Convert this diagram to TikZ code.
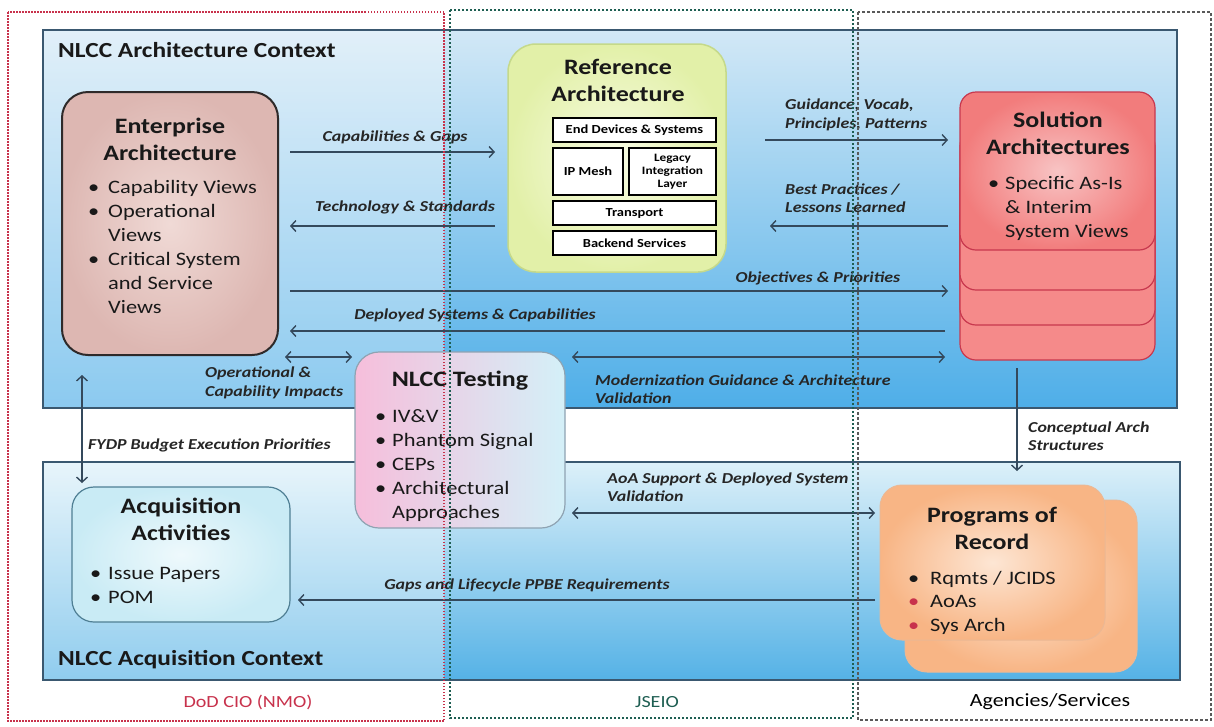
\documentclass[tikz,border=0pt]{standalone}
\usepackage{fontspec}
\setmainfont{Carlito}[FakeStretch=1.18]
\usetikzlibrary{arrows.meta}
\definecolor{arr}{HTML}{34495C}
\definecolor{ctxline}{HTML}{3A5870}
\definecolor{ctxtop}{HTML}{D2E8F6}
\definecolor{ctxbot}{HTML}{4EAEE8}
\definecolor{acqtop}{HTML}{DCF0F9}
\definecolor{acqbot}{HTML}{55B2E6}
\definecolor{eain}{HTML}{F0DAD6}
\definecolor{eaout}{HTML}{DDB7B2}
\definecolor{ealine}{HTML}{2E2A2A}
\definecolor{rain}{HTML}{F8FCE4}
\definecolor{raout}{HTML}{E2F0A8}
\definecolor{raline}{HTML}{C5D98A}
\definecolor{sain}{HTML}{F8C4C4}
\definecolor{saout}{HTML}{F27C7C}
\definecolor{salay}{HTML}{F58A8A}
\definecolor{saline}{HTML}{C8384E}
\definecolor{ntl}{HTML}{F6BEDB}
\definecolor{ntr}{HTML}{D4F0F8}
\definecolor{ntline}{HTML}{8FA3B2}
\definecolor{aain}{HTML}{EEF9FC}
\definecolor{aaout}{HTML}{C9EBF5}
\definecolor{aaline}{HTML}{4F7F94}
\definecolor{porin}{HTML}{FDE6D4}
\definecolor{porout}{HTML}{F8B585}
\definecolor{porline}{HTML}{E39A66}
\definecolor{dodred}{HTML}{C8324C}
\definecolor{jsgreen}{HTML}{1E5E52}
\newcommand\blist[2]{\begin{tabular}[t]{@{}p{#1}@{}l@{}}#2\end{tabular}}
\newcommand\redbul{\leavevmode\textcolor{dodred}{\textbullet}}
\begin{document}
\begin{tikzpicture}[x=1pt,y=-1pt,
  ctx/.style={draw=ctxline, line width=1.3pt, anchor=north west, inner sep=0pt, outer sep=0pt},
  rbox/.style={rounded corners=#1, anchor=north west, inner sep=0pt, outer sep=0pt},
  ttl/.style={font=\fontsize{22}{27}\selectfont\bfseries, align=center, inner sep=0pt, text=black!90},
  bul/.style={font=\fontsize{19}{24}\selectfont, anchor=base west, inner sep=0pt, text=black!90},
  lab/.style={font=\fontsize{15.2}{18.5}\selectfont\bfseries\itshape, inner sep=0pt, text=black!85},
  ctxlab/.style={font=\fontsize{21.5}{25}\selectfont\bfseries, anchor=west, inner sep=0pt, text=black!90},
  inb/.style={draw=black, line width=1.6pt, fill=white, anchor=north west, inner sep=0pt, outer sep=0pt, align=center, font=\fontsize{12.3}{12}\selectfont\bfseries},
  conn/.style={draw=arr, line width=1.1pt, -{Straight Barb[length=5pt,width=11pt,line width=1.4pt]}},
  dconn/.style={draw=arr, line width=1.1pt, {Straight Barb[length=5pt,width=11pt,line width=1.4pt]}-{Straight Barb[length=5pt,width=11pt,line width=1.4pt]}},
  col/.style={line width=1.3pt},
  bot/.style={font=\fontsize{17}{20}\selectfont, inner sep=0pt}
]
\useasboundingbox (0,0) rectangle (1214,726);
\fill[white] (0,0) rectangle (1214,726);

% context boxes
\node[ctx, minimum width=1134pt, minimum height=378pt, top color=ctxtop, bottom color=ctxbot] (actx) at (43,30) {};
\node[ctx, minimum width=1137pt, minimum height=218pt, top color=acqtop, bottom color=acqbot] (qctx) at (43,462) {};
\fill[white, opacity=0.35] (43.7,30.7) rectangle (444,407.3);
\fill[white, opacity=0.35] (43.7,462.7) rectangle (444,679.3);
\node[ctxlab] (actxl) at (58,50) {NLCC Architecture Context};
\node[ctxlab] (qctxl) at (58,660) {NLCC Acquisition Context};

% boxes
\node[rbox=26pt, draw=ealine, line width=2pt, inner color=eain, outer color=eaout, minimum width=216pt, minimum height=263pt] (ea) at (62,92) {};
\node[rbox=28pt, draw=raline, line width=1.5pt, inner color=rain, outer color=raout, minimum width=218pt, minimum height=228pt] (ra) at (508,44) {};
\node[rbox=16pt, draw=saline, line width=1.2pt, fill=salay, minimum width=195pt, minimum height=160pt] (sa3) at (960,200) {};
\node[rbox=16pt, draw=saline, line width=1.2pt, fill=salay, minimum width=195pt, minimum height=160pt] (sa2) at (960,165) {};
\node[rbox=16pt, draw=saline, line width=1.2pt, fill=salay, minimum width=195pt, minimum height=160pt] (sa1) at (960,130) {};
\node[rbox=16pt, draw=saline, line width=1.2pt, inner color=sain, outer color=saout, minimum width=195pt, minimum height=158pt] (sa) at (960,92) {};
\node[rbox=24pt, draw=ntline, line width=1.2pt, left color=ntl, right color=ntr, minimum width=210pt, minimum height=176pt] (nt) at (355,352) {};
\node[rbox=22pt, draw=aaline, line width=1.2pt, inner color=aain, outer color=aaout, minimum width=218pt, minimum height=135pt] (aa) at (72,487) {};
\node[rbox=22pt, draw=porline!70, line width=1pt, inner color=porin, outer color=porout, minimum width=232pt, minimum height=172pt] (porb) at (905,500) {};
\node[rbox=22pt, draw=porline!70, line width=1pt, inner color=porin, outer color=porout, minimum width=225pt, minimum height=155pt] (por) at (880,485) {};

% reference architecture inner boxes
\node[inb, minimum width=163pt, minimum height=24pt] (ed) at (553,118) {End Devices \& Systems};
\node[inb, minimum width=70pt, minimum height=47pt] (ipm) at (553,148) {IP Mesh};
\node[inb, minimum width=87pt, minimum height=47pt, font=\fontsize{11.3}{13}\selectfont\bfseries] (lil) at (629,148) {Legacy\\Integration\\Layer};
\node[inb, minimum width=163pt, minimum height=24pt] (tr) at (553,201) {Transport};
\node[inb, minimum width=163pt, minimum height=24pt] (bs) at (553,231) {Backend Services};

% titles
\node[ttl] (eat) at (170,139) {Enterprise\\Architecture};
\node[ttl] (rat) at (618,80) {Reference\\Architecture};
\node[ttl] (sat) at (1058,133) {Solution\\Architectures};
\node[ttl] (ntt) at (460,381) {NLCC Testing};
\node[ttl] (aat) at (181,519) {Acquisition\\Activities};
\node[ttl] (port) at (992,528) {Programs of\\Record};

% bullet lists
\node[bul] (eab) at (88,193) {\blist{20pt}{\textbullet & Capability Views\\ \textbullet & Operational\\ & Views\\ \textbullet & Critical System\\ & and Service\\ & Views}};
\node[bul] (sab) at (988,189) {\blist{17pt}{\textbullet & Specific As-Is\\ & \& Interim\\ & System Views}};
\node[bul] (ntb) at (375,422) {\blist{17pt}{\textbullet & IV\&V\\ \textbullet & Phantom Signal\\ \textbullet & CEPs\\ \textbullet & Architectural\\ & Approaches}};
\node[bul] (aab) at (90,579) {\blist{18pt}{\textbullet & Issue Papers\\ \textbullet & POM}};
\node[bul, font=\fontsize{19}{23.5}\selectfont] (porbl) at (908,584) {\blist{22pt}{\textbullet & Rqmts / JCIDS\\ \redbul & AoAs\\ \redbul & Sys Arch}};

% helper coordinates
\coordinate (h140) at (0,140);
\coordinate (h152) at (0,152);
\coordinate (h226) at (0,226);
\coordinate (h291) at (0,291);
\coordinate (h331) at (0,331);
\coordinate (h357) at (0,357);
\coordinate (h513) at (0,513);
\coordinate (h600) at (0,600);
\coordinate (v82) at (82,0);
\coordinate (v1017) at (1017,0);

% connectors
\draw[conn, shorten <=12pt, shorten >=13pt] (ea.east |- h152) -- (ra.west |- h152);
\draw[conn, shorten <=13pt, shorten >=12pt] (ra.west |- h226) -- (ea.east |- h226);
\draw[conn, shorten <=39pt, shorten >=12pt] (ra.east |- h140) -- (sa.west |- h140);
\draw[conn, shorten <=12pt, shorten >=44pt] (sa.west |- h226) -- (ra.east |- h226);
\draw[conn, shorten <=12pt, shorten >=12pt] (ea.east |- h291) -- (sa1.west |- h291);
\draw[conn, shorten <=15pt, shorten >=12pt] (sa2.west |- h331) -- (ea.east |- h331);
\draw[dconn, shorten <=7pt, shorten >=3pt] (ea.east |- h357) -- (nt.west |- h357);
\draw[dconn, shorten <=7pt, shorten >=15pt] (nt.east |- h357) -- (sa3.west |- h357);
\draw[dconn, shorten <=20pt, shorten >=4pt] (v82 |- ea.south) -- (v82 |- aa.north);
\draw[conn, shorten <=8pt, shorten >=14pt] (v1017 |- sa3.south) -- (v1017 |- por.north);
\draw[dconn, shorten <=7pt, shorten >=5pt] (nt.east |- h513) -- (por.west |- h513);
\draw[conn, shorten <=5pt, shorten >=8pt] (por.west |- h600) -- (aa.east |- h600);

% connector labels
\node[lab] (l1) at (395,137) {Capabilities \& Gaps};
\node[lab] (l2) at (405,207) {Technology \& Standards};
\node[lab, anchor=west, align=left] (l3) at (785,115) {Guidance, Vocab,\\Principles, Patterns};
\node[lab, anchor=west, align=left] (l4) at (785,198) {Best Practices /\\Lessons Learned};
\node[lab] (l5) at (818,278) {Objectives \& Priorities};
\node[lab] (l6) at (475,315) {Deployed Systems \& Capabilities};
\node[lab, anchor=west, align=left] (l7) at (205,383) {Operational \&\\Capability Impacts};
\node[lab, anchor=west, align=left] (l8) at (595,389) {Modernization Guidance \& Architecture\\Validation};
\node[lab, anchor=west] (l9) at (88,445) {FYDP Budget Execution Priorities};
\node[lab, anchor=west, align=left] (l10) at (1028,436) {Conceptual Arch\\Structures};
\node[lab, anchor=west, align=left] (l11) at (607,487) {AoA Support \& Deployed System\\Validation};
\node[lab] (l12) at (527,585) {Gaps and Lifecycle PPBE Requirements};

% organisation columns
\draw[col, draw=dodred, dash pattern=on 1.5pt off 1.5pt] (8,12) rectangle (444,721);
\draw[col, draw=jsgreen, dash pattern=on 2pt off 2pt] (450,10) rectangle (853,718);
\draw[col, draw=black!65, dash pattern=on 3pt off 2pt] (858,12) rectangle (1211,720);
\node[bot, text=dodred] (dod) at (248,702) {DoD CIO (NMO)};
\node[bot, text=jsgreen] (js) at (657,702) {JSEIO};
\node[bot, font=\fontsize{18.6}{20}\selectfont, text=black] (ag) at (1050,702) {Agencies/Services};
\end{tikzpicture}
\end{document}
